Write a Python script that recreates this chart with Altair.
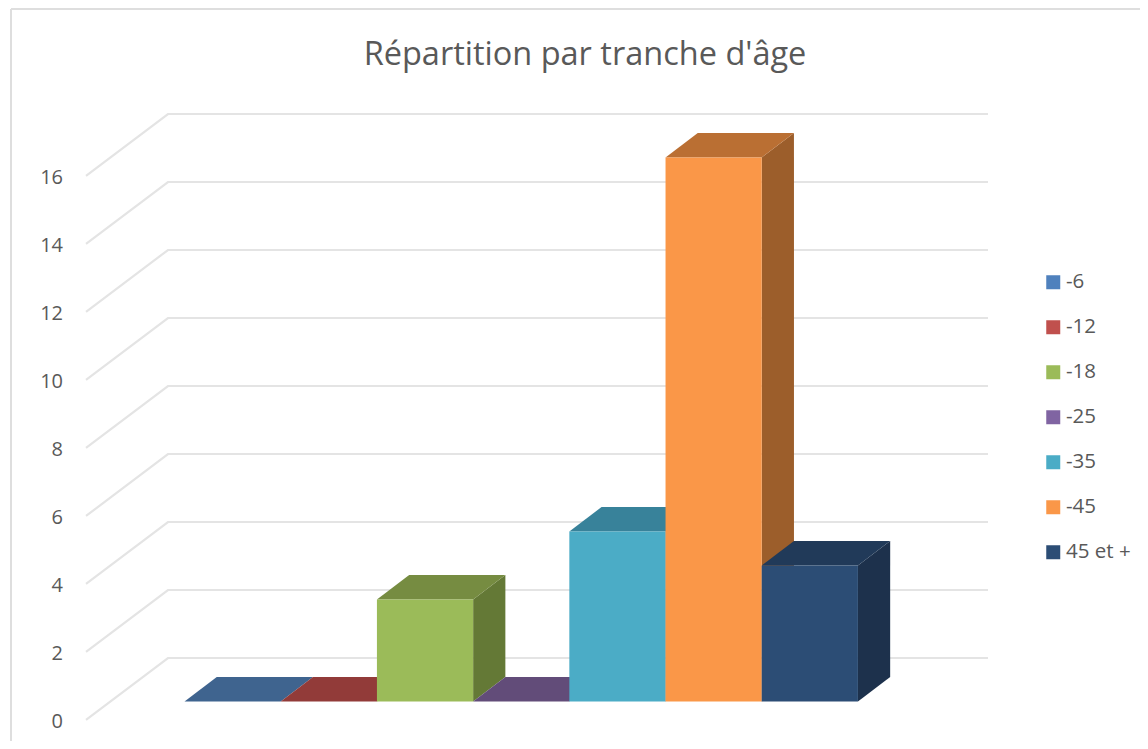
import altair as alt
import pandas as pd

categories = ["-6", "-12", "-18", "-25", "-35", "-45", "45 et +"]
values = [0, 0, 3, 0, 5, 16, 4]
front_colors = ["#4F81BD", "#C0504D", "#9BBB59", "#8064A2", "#4BACC6", "#FA9748", "#2C4D75"]
top_colors = ["#3F648F", "#923B39", "#768C41", "#624C79", "#38829A", "#BA6F33", "#213A59"]
side_colors = ["#34547A", "#7C3230", "#647936", "#533F67", "#2F6F84", "#9C5E2B", "#1D314C"]
tick_values = [0, 2, 4, 6, 8, 10, 12, 14, 16]

# oblique projection, in bar widths and value units
DX, DY = 0.335, 0.72
WALL_FRONT_X, WALL_BACK_X, WALL_END_X = -1.024, -0.172, 8.352
WALL_FRONT_Y, WALL_BACK_Y = -0.544, 1.279

rows_front, rows_side, rows_top = [], [], []
for i, (c, v) in enumerate(zip(categories, values)):
    rows_front.append(dict(cat=c, x=i, x2=i + 1, y=0, y2=v))
    rows_side.append(dict(cat=c, col=side_colors[i], x=i + 1, y=0, y2=v))
    rows_side.append(dict(cat=c, col=side_colors[i], x=i + 1 + DX, y=DY, y2=v + DY))
    rows_top.append(dict(cat=c, col=top_colors[i], x=i, x2=i + 1, y=v))
    rows_top.append(dict(cat=c, col=top_colors[i], x=i + DX, x2=i + 1 + DX, y=v + DY))

grid_rows = []
for t in tick_values:
    grid_rows.append(dict(t=t, o=0, x=WALL_FRONT_X, y=t + WALL_FRONT_Y))
    grid_rows.append(dict(t=t, o=1, x=WALL_BACK_X, y=t + WALL_BACK_Y))
    grid_rows.append(dict(t=t, o=2, x=WALL_END_X, y=t + WALL_BACK_Y))

tick_rows = [dict(label=str(t), x=-1.263, y=t + WALL_FRONT_Y) for t in tick_values]

xs = alt.Scale(domain=[-1.835, 9.932], nice=False, zero=False)
ys = alt.Scale(domain=[-1.162, 20.397], nice=False, zero=False)
X = alt.X("x:Q", scale=xs, axis=None)
Y = alt.Y("y:Q", scale=ys, axis=None)

frame_left = alt.Chart(pd.DataFrame({"a": [0]})).mark_rule(color="#DEDEDE", strokeWidth=2).encode(
    x=alt.value(3), y=alt.value(1), y2=alt.value(733))
frame_top = alt.Chart(pd.DataFrame({"a": [0]})).mark_rule(color="#DEDEDE", strokeWidth=2).encode(
    x=alt.value(3), x2=alt.value(1132), y=alt.value(1))

grid = alt.Chart(pd.DataFrame(grid_rows)).mark_line(color="#E4E4E4", strokeWidth=2.2).encode(
    x=X, y=Y, detail="t:N", order="o:Q")

ticks = alt.Chart(pd.DataFrame(tick_rows)).mark_text(
    align="right", baseline="middle", font="Open Sans", fontSize=20, color="#595959", dy=2
).encode(x=X, y=Y, text="label:N")

sides = alt.Chart(pd.DataFrame(rows_side)).mark_area().encode(
    x=X, y=Y, y2="y2:Q", detail="cat:N", color=alt.Color("col:N", scale=None))

tops = alt.Chart(pd.DataFrame(rows_top)).mark_area(orient="horizontal").encode(
    x=X, x2="x2:Q", y=Y, detail="cat:N", color=alt.Color("col:N", scale=None))

fronts = alt.Chart(pd.DataFrame(rows_front)).mark_rect().encode(
    x=X, x2="x2:Q", y=Y, y2="y2:Q",
    color=alt.Color(
        "cat:N",
        scale=alt.Scale(domain=categories, range=front_colors),
        sort=categories,
        legend=alt.Legend(
            title=None, orient="none", legendX=1035, legendY=264,
            symbolType="square", symbolSize=196, symbolStrokeWidth=0,
            labelFont="Open Sans", labelFontSize=20.5, labelColor="#595959",
            labelOffset=2.5, rowPadding=24, labelLimit=120,
        ),
    ),
)

chart = alt.layer(frame_left, frame_top, grid, ticks, sides, tops, fronts).properties(
    width=1132, height=733, padding=0, autosize=alt.AutoSizeParams(type="none"),
    title=alt.TitleParams(
        "Répartition par tranche d'âge", anchor="middle", frame="group",
        font="Open Sans", fontSize=32.5, fontWeight="normal", color="#595959",
        dx=11, offset=-79, baseline="middle",
    ),
).configure_view(stroke=None)

chart.save("out.html", embed_options={"renderer": "svg", "actions": False})
